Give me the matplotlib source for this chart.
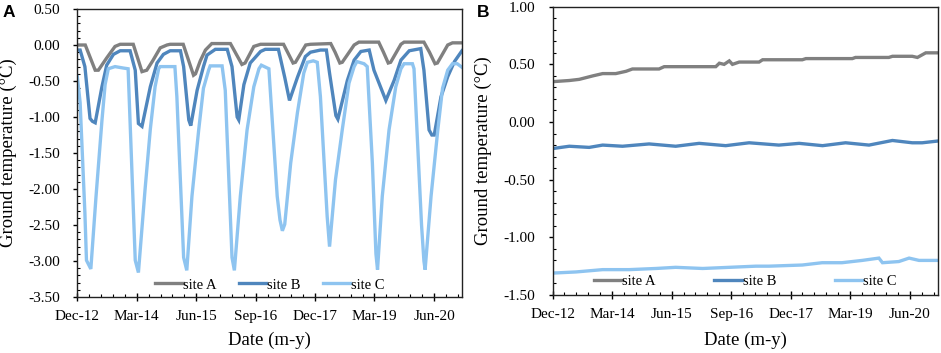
import matplotlib
matplotlib.use("Agg")
import matplotlib.pyplot as plt
import matplotlib.dates as mdates
import pandas as pd
from matplotlib.ticker import FormatStrFormatter, MultipleLocator, FixedLocator

# months since Dec-2012, values in degC
START = pd.Timestamp("2012-12-01")

A_SITE_A_M = [0, 2.0, 4.5, 5.3, 7.4, 9.5, 10.8, 14.1, 16.3, 17.5, 19.0, 20.9, 22.6, 23.4, 26.7,
              29.3, 29.8, 31.0, 32.3, 33.9, 38.6, 40.0, 41.5, 42.3, 44.5, 46.2, 52.0, 53.2, 54.4,
              55.0, 57.6, 58.8, 63.9, 65.0, 66.2, 66.8, 69.8, 71.0, 76.0, 77.2, 78.4, 79.0, 81.6,
              82.4, 87.4, 88.8, 90.2, 90.8, 93.4, 94.6, 97.0]
A_SITE_A_V = [0.00, 0.00, -0.35, -0.35, -0.18, -0.02, 0.01, 0.01, -0.37, -0.35, -0.22, -0.04, 0.00,
              0.01, 0.01, -0.42, -0.40, -0.22, -0.07, 0.02, 0.02, -0.12, -0.27, -0.25, -0.02, 0.01,
              0.01, -0.12, -0.25, -0.24, 0.00, 0.01, 0.02, -0.10, -0.25, -0.24, 0.00, 0.04, 0.04,
              -0.10, -0.25, -0.24, 0.01, 0.04, 0.04, -0.10, -0.26, -0.25, 0.00, 0.03, 0.03]

A_SITE_B_M = [0, 0.7, 1.9, 3.2, 3.8, 4.5, 6.2, 7.4, 9.1, 10.8, 13.3, 14.6, 15.4, 16.3, 18.4, 20.1,
              21.7, 23.4, 26.0, 26.8, 28.1, 28.6, 30.2, 31.8, 32.7, 34.8, 37.8, 39.0, 40.3, 40.7,
              42.0, 43.6, 46.2, 47.4, 50.7, 52.3, 53.5, 55.5, 57.5, 58.8, 61.3, 62.8, 63.6, 65.2,
              65.7, 68.1, 69.8, 71.5, 73.6, 74.8, 77.8, 79.9, 81.6, 83.7, 86.6, 87.4, 88.7, 89.4,
              90.0, 91.7, 93.4, 95.1, 97.0]
A_SITE_B_V = [-0.07, -0.07, -0.30, -1.02, -1.06, -1.08, -0.58, -0.28, -0.13, -0.08, -0.08, -0.35,
              -1.09, -1.13, -0.58, -0.25, -0.13, -0.08, -0.08, -0.30, -1.04, -1.12, -0.63, -0.30,
              -0.14, -0.06, -0.06, -0.30, -1.00, -1.04, -0.55, -0.25, -0.09, -0.06, -0.06, -0.45,
              -0.77, -0.45, -0.16, -0.10, -0.07, -0.07, -0.39, -0.98, -1.03, -0.49, -0.21, -0.09,
              -0.07, -0.35, -0.77, -0.49, -0.21, -0.08, -0.05, -0.35, -1.18, -1.25, -1.25, -0.72,
              -0.44, -0.23, -0.08]

A_SITE_C_M = [0, 0.7, 1.9, 2.3, 3.4, 4.7, 6.2, 7.0, 7.8, 9.5, 11.6, 12.8, 14.6, 15.4, 17.1, 18.4,
              19.6, 20.5, 20.9, 24.6, 25.1, 26.8, 27.6, 28.9, 30.6, 31.8, 33.1, 33.5, 36.5, 37.3,
              39.0, 39.6, 41.1, 42.8, 44.5, 45.8, 46.4, 48.3, 50.4, 51.1, 51.7, 52.3, 53.8, 55.5,
              57.1, 58.0, 59.5, 60.5, 61.3, 63.0, 63.6, 65.1, 66.8, 68.5, 69.8, 70.5, 72.3, 73.1,
              74.4, 75.3, 75.7, 76.9, 78.6, 80.3, 81.6, 82.4, 84.5, 84.9, 86.8, 87.4, 87.7, 89.2,
              90.9, 92.1, 93.4, 94.6, 95.8, 97.0]
A_SITE_C_V = [-0.44, -0.80, -2.33, -2.99, -3.11, -2.11, -1.05, -0.55, -0.33, -0.30, -0.32, -0.33,
              -2.99, -3.16, -1.99, -1.17, -0.58, -0.33, -0.30, -0.30, -0.72, -2.95, -3.13, -2.10,
              -1.18, -0.60, -0.35, -0.29, -0.29, -0.63, -2.95, -3.13, -2.10, -1.18, -0.58, -0.33,
              -0.28, -0.33, -2.10, -2.43, -2.58, -2.49, -1.64, -0.94, -0.39, -0.24, -0.22, -0.24,
              -0.72, -2.38, -2.80, -1.87, -1.18, -0.53, -0.30, -0.23, -0.26, -0.30, -1.64, -2.90,
              -3.12, -2.10, -1.18, -0.58, -0.33, -0.26, -0.26, -0.33, -2.50, -3.00, -3.12, -2.10,
              -1.18, -0.60, -0.35, -0.26, -0.26, -0.31]

B_SITE_A_M = [0, 4.2, 6.7, 10.1, 12.6, 15.9, 18.5, 20.1, 26.8, 28.1, 41.1, 42.0, 43.2, 44.5, 45.3,
              47.0, 52.0, 52.9, 62.9, 63.8, 75.5, 76.3, 84.7, 85.6, 90.6, 91.9, 94.0, 97.0]
B_SITE_A_V = [0.35, 0.36, 0.37, 0.40, 0.42, 0.42, 0.44, 0.46, 0.46, 0.48, 0.48, 0.51, 0.50, 0.53,
              0.50, 0.52, 0.52, 0.54, 0.54, 0.55, 0.55, 0.56, 0.56, 0.57, 0.57, 0.56, 0.60, 0.60]

B_SITE_B_M = [0, 4.2, 9.2, 12.6, 17.6, 24.3, 31.0, 36.9, 43.6, 49.5, 57.0, 62.1, 68.0, 73.8, 79.7,
              85.6, 90.6, 93.1, 97.0]
B_SITE_B_V = [-0.23, -0.21, -0.22, -0.20, -0.21, -0.19, -0.21, -0.185, -0.205, -0.18, -0.20,
              -0.185, -0.205, -0.18, -0.20, -0.16, -0.18, -0.18, -0.165]

B_SITE_C_M = [0, 5.9, 12.6, 19.3, 26.0, 31.0, 37.8, 44.5, 51.2, 54.5, 62.9, 67.9, 72.9, 78.0, 82.2,
              83.1, 87.2, 89.8, 92.3, 97.0]
B_SITE_C_V = [-1.31, -1.30, -1.28, -1.28, -1.27, -1.26, -1.27, -1.26, -1.25, -1.25, -1.24, -1.22,
              -1.22, -1.20, -1.18, -1.22, -1.21, -1.18, -1.20, -1.20]

SITES = ["site A", "site B", "site C"]
COLORS = ["#808080", "#4f86bd", "#8ec4f0"]
TICK_DATES = ["2012-12-01", "2014-03-01", "2015-06-01", "2016-09-01",
              "2017-12-01", "2019-03-01", "2020-06-01"]

plt.rcParams["font.family"] = ["Liberation Serif", "DejaVu Serif"]


def to_dates(months):
    return [START + pd.Timedelta(days=m * 30.44) for m in months]


def panel(ax, series, ylim, colspace, leg_y, xlab_y):
    for (m, v), lab, col in zip(series, SITES, COLORS):
        ax.plot(to_dates(m), v, color=col, lw=2.4, label=lab, solid_joinstyle="miter")
    ax.set_xlim(START, pd.Timestamp("2021-01-01"))
    ax.set_ylim(*ylim)
    ax.xaxis.set_major_locator(FixedLocator(mdates.date2num(pd.to_datetime(TICK_DATES))))
    ax.xaxis.set_major_formatter(mdates.DateFormatter("%b-%y"))
    ax.xaxis.set_minor_locator(mdates.MonthLocator(bymonth=[3, 6, 9, 12]))
    ax.yaxis.set_major_locator(MultipleLocator(0.5))
    ax.yaxis.set_minor_locator(MultipleLocator(0.1))
    ax.yaxis.set_major_formatter(FormatStrFormatter("%.2f"))
    ax.tick_params(axis="x", which="major", direction="inout", length=5.8, width=1,
                   labelsize=11, pad=6.5)
    ax.tick_params(axis="x", which="minor", direction="in", length=2.2, width=0.8)
    ax.tick_params(axis="y", which="major", direction="out", length=3, width=1,
                   labelsize=11, pad=9.5)
    ax.tick_params(axis="y", which="minor", direction="in", length=2.2, width=0.8)
    for s in ax.spines.values():
        s.set_color("#222222")
        s.set_linewidth(1.0)
    ax.set_ylabel("Ground temperature (\u00b0C)", fontsize=13.5)
    ax.yaxis.set_label_coords(-0.157, 0.5)
    ax.set_xlabel("Date (m-y)", fontsize=13.5)
    ax.xaxis.set_label_coords(0.5, xlab_y)
    ax.legend(loc="center", bbox_to_anchor=(0.5, leg_y), ncol=3, frameon=False, fontsize=10.5,
              handlelength=1.9, handletextpad=0.05, columnspacing=colspace,
              borderpad=0, borderaxespad=0)


fig = plt.figure(figsize=(9.41, 3.53), dpi=100)
axA = fig.add_axes([0.0822, 0.1586, 0.4088, 0.8159])
axB = fig.add_axes([0.5873, 0.1643, 0.4092, 0.8167])

panel(axA, [(A_SITE_A_M, A_SITE_A_V), (A_SITE_B_M, A_SITE_B_V), (A_SITE_C_M, A_SITE_C_V)],
      (-3.5, 0.5), 1.5, 0.042, -0.122)
panel(axB, [(B_SITE_A_M, B_SITE_A_V), (B_SITE_B_M, B_SITE_B_V), (B_SITE_C_M, B_SITE_C_V)],
      (-1.5, 1.0), 4.0, 0.046, -0.128)

fig.text(0.003, 0.985, "A", fontsize=12.5, fontweight="bold", va="top", ha="left",
         family=["Liberation Sans", "DejaVu Sans"])
fig.text(0.507, 0.985, "B", fontsize=12.5, fontweight="bold", va="top", ha="left",
         family=["Liberation Sans", "DejaVu Sans"])

fig.savefig("out.png", dpi=100)
